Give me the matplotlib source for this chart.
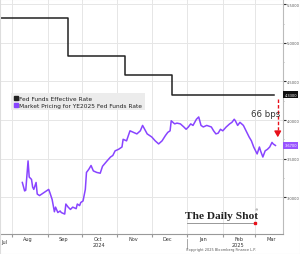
import matplotlib
matplotlib.use('Agg')
import matplotlib.pyplot as plt
import matplotlib.dates as mdates
import matplotlib.transforms as mtransforms
from matplotlib.lines import Line2D
import numpy as np
import pandas as pd

## Data
# Fed funds effective rate (step changes)
effr_dates = ['2024-07-20', '2024-09-19', '2024-11-08', '2024-12-19', '2025-03-18']
effr_values = [5.33, 4.83, 4.58, 4.33, 4.33]

# market pricing for YE2025 fed funds rate
ye_dates = ['2024-08-10', '2024-08-12', '2024-08-13', '2024-08-15', '2024-08-16', '2024-08-18',
            '2024-08-19', '2024-08-20', '2024-08-22', '2024-08-23', '2024-08-25', '2024-08-27',
            '2024-08-29', '2024-08-31', '2024-09-02', '2024-09-03', '2024-09-05', '2024-09-06',
            '2024-09-07', '2024-09-08', '2024-09-10', '2024-09-12', '2024-09-13', '2024-09-16',
            '2024-09-17', '2024-09-19', '2024-09-21', '2024-09-23', '2024-09-26', '2024-09-27',
            '2024-09-29', '2024-09-30', '2024-10-02', '2024-10-04', '2024-10-05', '2024-10-07',
            '2024-10-09', '2024-10-11', '2024-10-14', '2024-10-17', '2024-10-19', '2024-10-23',
            '2024-10-26', '2024-10-28', '2024-10-30', '2024-11-02', '2024-11-05', '2024-11-06',
            '2024-11-09', '2024-11-12', '2024-11-15', '2024-11-18', '2024-11-21', '2024-11-23',
            '2024-11-27', '2024-12-01', '2024-12-04', '2024-12-07', '2024-12-10', '2024-12-13',
            '2024-12-15', '2024-12-17', '2024-12-18', '2024-12-21', '2024-12-23', '2024-12-26',
            '2024-12-29', '2024-12-31', '2025-01-02', '2025-01-04', '2025-01-06', '2025-01-09',
            '2025-01-11', '2025-01-13', '2025-01-15', '2025-01-18', '2025-01-22', '2025-01-24',
            '2025-01-26', '2025-01-28', '2025-01-30', '2025-02-01', '2025-02-04', '2025-02-07',
            '2025-02-09', '2025-02-11', '2025-02-12', '2025-02-14', '2025-02-16', '2025-02-19',
            '2025-02-22', '2025-02-24', '2025-02-26', '2025-02-28', '2025-03-03', '2025-03-05',
            '2025-03-06', '2025-03-08', '2025-03-10', '2025-03-12', '2025-03-14', '2025-03-16',
            '2025-03-17', '2025-03-19']
ye_values = [3.19, 3.08, 3.09, 3.47, 3.26, 3.23,
             3.13, 3.10, 3.19, 3.04, 3.02, 3.04,
             3.06, 3.08, 3.10, 3.06, 2.97, 2.89,
             2.81, 2.87, 2.80, 2.82, 2.80, 2.78,
             2.91, 2.87, 2.84, 2.87, 2.85, 2.91,
             2.89, 2.93, 2.95, 3.10, 3.32, 3.36,
             3.41, 3.34, 3.32, 3.31, 3.40, 3.47,
             3.52, 3.54, 3.60, 3.62, 3.65, 3.75,
             3.73, 3.86, 3.84, 3.82, 3.86, 3.93,
             3.82, 3.78, 3.73, 3.69, 3.73, 3.80,
             3.84, 3.86, 3.99, 3.95, 3.96, 3.95,
             3.91, 3.88, 3.91, 3.95, 3.93, 4.01,
             4.04, 3.93, 3.91, 3.93, 3.91, 3.86,
             3.82, 3.83, 3.88, 3.86, 3.91, 3.95,
             3.97, 4.01, 3.99, 3.93, 3.97, 3.93,
             3.84, 3.78, 3.73, 3.65, 3.56, 3.65,
             3.60, 3.52, 3.60, 3.62, 3.65, 3.71,
             3.69, 3.67]

y_ticks = [3.0, 3.5, 4.0, 4.5, 5.0, 5.5]
gap_text = '66 bps'

black = '#222222'
purple = '#8844ff'
red = '#e8101a'

effr_dates = pd.to_datetime(effr_dates)
ye_dates = pd.to_datetime(ye_dates)

fig = plt.figure(figsize=(3.0, 2.55), dpi=100)
ax = fig.add_axes([0.0, 0.078, 0.943, 0.922])

ax.plot(effr_dates, effr_values, drawstyle='steps-post', color=black, lw=1.1)
ax.plot(ye_dates, ye_values, color=purple, lw=1.1)

ax.set_xlim(pd.Timestamp('2024-07-21 12:00'), pd.Timestamp('2025-03-25 12:00'))
ax.set_ylim(2.52, 5.57)

# grid on month starts / half points
ax.xaxis.set_major_locator(mdates.MonthLocator())
ax.xaxis.set_major_formatter(plt.NullFormatter())
ax.xaxis.set_minor_locator(mdates.MonthLocator(bymonthday=15))
ax.xaxis.set_minor_formatter(mdates.DateFormatter('%b'))
ax.tick_params(axis='x', which='major', length=2.5, color='#999999', direction='out')
ax.tick_params(axis='x', which='minor', length=0, labelsize=3.6, pad=1.5, labelcolor='#333333')

ax.yaxis.tick_right()
ax.set_yticks(y_ticks)
ax.set_yticklabels(['%.4f' % v for v in y_ticks])
ax.set_yticks([3.25, 3.75, 4.25, 4.75, 5.25], minor=True)
ax.tick_params(axis='y', which='major', length=2, width=0.8, color='#333333',
               labelsize=2.6, pad=1, labelcolor='#555555')
ax.tick_params(axis='y', which='minor', length=1, color='#aaaaaa')

ax.grid(True, which='major', color='#e6e6e6', lw=0.7)
ax.set_axisbelow(True)

for s in ['left', 'top']:
    ax.spines[s].set_visible(False)
ax.spines['right'].set_color('#bbbbbb')
ax.spines['bottom'].set_color('#999999')
ax.spines['right'].set_linewidth(0.8)
ax.spines['bottom'].set_linewidth(0.8)

# month label for the clipped first month, and year labels
trans = mtransforms.blended_transform_factory(ax.transData, ax.transAxes)
ax.text(pd.Timestamp('2024-07-25'), -0.0195, 'Jul', transform=trans, fontsize=3.6,
        color='#333333', ha='center', va='top')
ax.text(pd.Timestamp('2024-10-16'), -0.035, '2024', transform=trans, fontsize=3.6,
        color='#333333', ha='center', va='top')
ax.text(pd.Timestamp('2025-02-14'), -0.035, '2025', transform=trans, fontsize=3.6,
        color='#333333', ha='center', va='top')
ax.plot([pd.Timestamp('2025-01-01')] * 2, [-0.02, -0.065], transform=trans,
        color='#999999', lw=0.6, clip_on=False)

# last value boxes on the right axis
ax.text(1.005, (effr_values[-1] - 2.52) / (5.57 - 2.52), '%.4f' % effr_values[-1],
        transform=ax.transAxes, fontsize=2.6, color='white', va='center', ha='left',
        bbox=dict(boxstyle='square,pad=0.35', fc='#111111', ec='none'))
ax.text(1.005, (ye_values[-1] - 2.52) / (5.57 - 2.52), '%.4f' % ye_values[-1],
        transform=ax.transAxes, fontsize=2.6, color='white', va='center', ha='left',
        bbox=dict(boxstyle='square,pad=0.35', fc='#9955ff', ec='none'))

# gap annotation
x_arrow = pd.Timestamp('2025-03-21')
ax.plot([x_arrow, x_arrow], [effr_values[-1] - 0.06, ye_values[-1] + 0.2],
        color=red, lw=1.0, ls=(0, (2.5, 1.5)))
ax.annotate('', xy=(x_arrow, ye_values[-1] + 0.07), xytext=(x_arrow, ye_values[-1] + 0.22),
            arrowprops=dict(arrowstyle='-|>,head_length=0.35,head_width=0.2',
                            color=red, lw=1.0))
ax.text(pd.Timestamp('2025-03-10'), 4.09, gap_text, fontsize=6.2, color='#333333',
        ha='center', va='center')

# legend
handles = [Line2D([], [], marker='s', ls='none', color=black, markersize=2.8),
           Line2D([], [], marker='s', ls='none', color=purple, markersize=2.8)]
leg = ax.legend(handles, ['Fed Funds Effective Rate',
                          'Market Pricing for YE2025 Fed Funds Rate'],
                loc='upper left', bbox_to_anchor=(0.04, 0.6), fontsize=4.25,
                frameon=True, fancybox=False, handlelength=0.6, handletextpad=0.3,
                borderpad=0.45, labelspacing=0.3, borderaxespad=0)
leg.get_frame().set_facecolor('#ececec')
leg.get_frame().set_edgecolor('none')
leg.get_frame().set_alpha(1)
for t in leg.get_texts():
    t.set_color('#222222')

# The Daily Shot mark
ax.text(pd.Timestamp('2025-01-31'), 2.70, 'The Daily Shot', family='Liberation Serif',
        fontsize=8.2, color='#222222', ha='center', va='bottom', fontweight='bold')
ax.text(pd.Timestamp('2025-03-01'), 2.84, '\u00ae', fontsize=2.5, color='#555555',
        ha='left', va='center')
ax.plot([pd.Timestamp('2025-01-01'), pd.Timestamp('2025-03-01')], [2.67, 2.67],
        color='#888888', lw=0.6)
ax.plot([pd.Timestamp('2025-03-01')], [2.67], marker='s', color=red, markersize=1.8)

fig.text(0.735, 0.018, 'Copyright 2025 Bloomberg Finance L.P.', fontsize=2.5,
         color='#555555', ha='center', va='center')

fig.patches.append(plt.Rectangle((0, 0), 1, 1, transform=fig.transFigure,
                                 fill=False, ec='#dddddd', lw=0.8))

fig.savefig('out.png', dpi=100)
